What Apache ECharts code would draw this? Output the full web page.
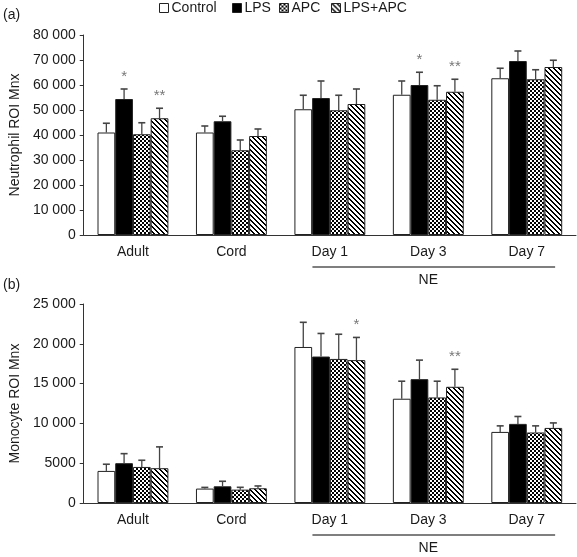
<!DOCTYPE html>
<html>
<head>
<meta charset="utf-8">
<script src="https://cdn.jsdelivr.net/npm/echarts@6/dist/echarts.min.js"></script>
<style>html,body{margin:0;padding:0;background:#fff}#c{width:577px;height:557px}</style>
</head>
<body>
<div id="c"></div>
<script>
// ---------- data ----------
const categories = ['Adult', 'Cord', 'Day 1', 'Day 3', 'Day 7'];
const seriesNames = ['Control', 'LPS', 'APC', 'LPS+APC'];

// (a) Neutrophil ROI Mnx: means and SD (upper error)
const neutroControl = [41000, 41000, 50300, 56100, 62700];
const neutroControlErr = [3700, 2600, 5600, 5500, 4000];
const neutroLPS = [54400, 45500, 54800, 60000, 69600];
const neutroLPSErr = [4000, 2000, 6800, 5100, 4000];
const neutroAPC = [40300, 33900, 49900, 54100, 62300];
const neutroAPCErr = [4600, 4100, 6000, 5600, 3800];
const neutroLPSAPC = [46700, 39600, 52400, 57300, 67200];
const neutroLPSAPCErr = [4000, 2800, 6000, 5000, 2700];
const neutroSigLPS = ['*', '', '', '*', ''];
const neutroSigLPSAPC = ['**', '', '', '**', ''];

// (b) Monocyte ROI Mnx
const monoControl = [4030, 1810, 19600, 13100, 8930];
const monoControlErr = [840, 150, 3100, 2200, 760];
const monoLPS = [5000, 2100, 18400, 15560, 9940];
const monoLPSErr = [1200, 630, 2900, 2390, 930];
const monoAPC = [4530, 1680, 18100, 13260, 8860];
const monoAPCErr = [840, 290, 3100, 2040, 830];
const monoLPSAPC = [4370, 1850, 17950, 14600, 9430];
const monoLPSAPCErr = [2680, 290, 2850, 2200, 630];
const monoSigLPSAPC = ['', '', '*', '**', ''];

const neutroTicks = { min: 0, max: 80000, interval: 10000 };
const monoTicks = { min: 0, max: 25000, interval: 5000 };
const groupLabel = 'NE';

// ---------- patterns ----------
function makePattern(size, test) {
  const cv = document.createElement('canvas');
  cv.width = size; cv.height = size;
  const ctx = cv.getContext('2d');
  const img = ctx.createImageData(size, size);
  for (let y = 0; y < size; y++) for (let x = 0; x < size; x++) {
    const k = (y * size + x) * 4;
    const v = test(x, y) ? 0 : 255;
    img.data[k] = v; img.data[k + 1] = v; img.data[k + 2] = v; img.data[k + 3] = 255;
  }
  ctx.putImageData(img, 0, 0);
  return { image: cv, repeat: 'repeat' };
}
const checker = makePattern(4, (x, y) => ((Math.floor(x / 2) + Math.floor(y / 2)) % 2) === 0);
const stripes = makePattern(5, (x, y) => ((x - y + 10) % 5) < 2);
const fills = ['#ffffff', '#000000', checker, stripes];

const FONT = 'Liberation Sans, Arial, Helvetica, sans-serif';
const TXT = '#1a1a1a';
const CAT_GAP = 0.28;

function fmt(v) {
  return v >= 10000 ? String(v).replace(/\B(?=(\d{3})+(?!\d))/g, ' ') : String(v);
}

const neutro = [neutroControl, neutroLPS, neutroAPC, neutroLPSAPC];
const neutroErr = [neutroControlErr, neutroLPSErr, neutroAPCErr, neutroLPSAPCErr];
const neutroSig = [[], neutroSigLPS, [], neutroSigLPSAPC];
const mono = [monoControl, monoLPS, monoAPC, monoLPSAPC];
const monoErr = [monoControlErr, monoLPSErr, monoAPCErr, monoLPSAPCErr];
const monoSig = [[], [], [], monoSigLPSAPC];

function errData(means, errs) {
  const out = [];
  for (let s = 0; s < means.length; s++)
    for (let c = 0; c < categories.length; c++)
      out.push([c, s, means[s][c], errs[s][c]]);
  return out;
}
function sigList(means, sigs) {
  const out = [];
  for (let s = 0; s < means.length; s++)
    for (let c = 0; c < categories.length; c++)
      out.push(sigs[s][c] || '');
  return out;
}

function makeRender(sigs) {
  return function (params, api) {
    const c = api.value(0), s = api.value(1), m = api.value(2), e = api.value(3);
    const sig = sigs[params.dataIndex];
    const base = api.coord([c, m]);
    const top = api.coord([c, m + e]);
    const catW = api.size([1, 0])[0];
    const gW = catW * (1 - CAT_GAP);
    const bw = gW / 4;
    const x = base[0] - gW / 2 + bw * (s + 0.5);
    const children = [
      { type: 'line', shape: { x1: x, y1: base[1], x2: x, y2: top[1] }, style: { stroke: '#444', lineWidth: 1.3 } },
      { type: 'line', shape: { x1: x - 3.5, y1: top[1], x2: x + 3.5, y2: top[1] }, style: { stroke: '#444', lineWidth: 1.6 } }
    ];
    if (sig) children.push({ type: 'text', style: { text: sig, x: x, y: top[1] - 5, align: 'center', verticalAlign: 'bottom', fill: '#777', font: '15px ' + FONT } });
    return { type: 'group', children };
  };
}

function xAxisFor(grid) {
  return {
    type: 'category', gridIndex: grid, data: categories,
    axisLine: { lineStyle: { color: '#333', width: 1 } },
    axisTick: { inside: true, length: 4, lineStyle: { color: '#333' } },
    axisLabel: { color: TXT, fontSize: 14, fontFamily: FONT, margin: 10 },
    splitLine: { show: false }
  };
}
function yAxisFor(grid, ticks, name) {
  return {
    type: 'value', gridIndex: grid, min: ticks.min, max: ticks.max, interval: ticks.interval,
    name: name, nameLocation: 'middle', nameGap: 60, nameRotate: 90,
    nameTextStyle: { color: TXT, fontSize: 14, fontFamily: FONT },
    axisLine: { show: true, lineStyle: { color: '#333', width: 1 } },
    axisTick: { show: true, inside: false, length: 4, lineStyle: { color: '#333' } },
    axisLabel: { color: TXT, fontSize: 14, fontFamily: FONT, margin: 8, formatter: fmt },
    splitLine: { show: false }
  };
}

const series = [];
[[neutro, 0], [mono, 1]].forEach(([set, g]) => {
  set.forEach((vals, s) => {
    series.push({
      type: 'bar', name: seriesNames[s], xAxisIndex: g, yAxisIndex: g, data: vals,
      barGap: '0%', barCategoryGap: (CAT_GAP * 100) + '%',
      itemStyle: { color: fills[s], borderColor: '#222', borderWidth: 1 },
      emphasis: { disabled: true }, silent: true
    });
  });
});
series.push({ type: 'custom', xAxisIndex: 0, yAxisIndex: 0, renderItem: makeRender(sigList(neutro, neutroSig)), data: errData(neutro, neutroErr), z: 5, silent: true });
series.push({ type: 'custom', xAxisIndex: 1, yAxisIndex: 1, renderItem: makeRender(sigList(mono, monoSig)), data: errData(mono, monoErr), z: 5, silent: true });

const legendLefts = [159, 232, 279, 331];
const legends = seriesNames.map((n, i) => ({
  data: [n], left: legendLefts[i], top: 1, itemWidth: 9, itemHeight: 9, itemGap: 0, padding: 0,
  icon: 'rect', textStyle: { color: TXT, fontSize: 14, fontFamily: FONT, padding: [0, 0, 0, -2] },
  itemStyle: { borderColor: '#222', borderWidth: 1 }, selectedMode: false
}));

const chart = echarts.init(document.getElementById('c'), null, { renderer: 'canvas' });
chart.setOption({
  animation: false,
  backgroundColor: '#fff',
  title: [
    { text: '(a)', left: 3, top: 8, padding: 0, textStyle: { color: TXT, fontSize: 14, fontWeight: 'normal', fontFamily: FONT } },
    { text: '(b)', left: 3, top: 278, padding: 0, textStyle: { color: TXT, fontSize: 14, fontWeight: 'normal', fontFamily: FONT } }
  ],
  legend: legends,
  grid: [
    { left: 81, right: 1, top: 35, height: 200 },
    { left: 81, right: 1, top: 304, height: 199 }
  ],
  xAxis: [xAxisFor(0), xAxisFor(1)],
  yAxis: [yAxisFor(0, neutroTicks, 'Neutrophil ROI Mnx'), yAxisFor(1, monoTicks, 'Monocyte ROI Mnx')],
  series: series
});

// NE grouping line below Day 1 .. Day 7 in both panels
const graphics = [];
[0, 1].forEach(g => {
  const a = chart.convertToPixel({ gridIndex: g }, [2, 0]);
  const b = chart.convertToPixel({ gridIndex: g }, [4, 0]);
  const nx = chart.convertToPixel({ gridIndex: g }, [3, 0]);
  const catW = chart.convertToPixel({ gridIndex: g }, [1, 0])[0] - chart.convertToPixel({ gridIndex: g }, [0, 0])[0];
  const y0 = a[1];
  graphics.push({ type: 'line', shape: { x1: a[0] - 0.177 * catW, y1: y0 + 32, x2: b[0] + 0.288 * catW, y2: y0 + 32 }, style: { stroke: '#555', lineWidth: 1.5 }, silent: true });
  graphics.push({ type: 'text', style: { text: groupLabel, x: nx[0], y: y0 + 45, align: 'center', verticalAlign: 'middle', fill: TXT, font: '14px ' + FONT }, silent: true });
});
chart.setOption({ graphic: graphics });
</script>
</body>
</html>
